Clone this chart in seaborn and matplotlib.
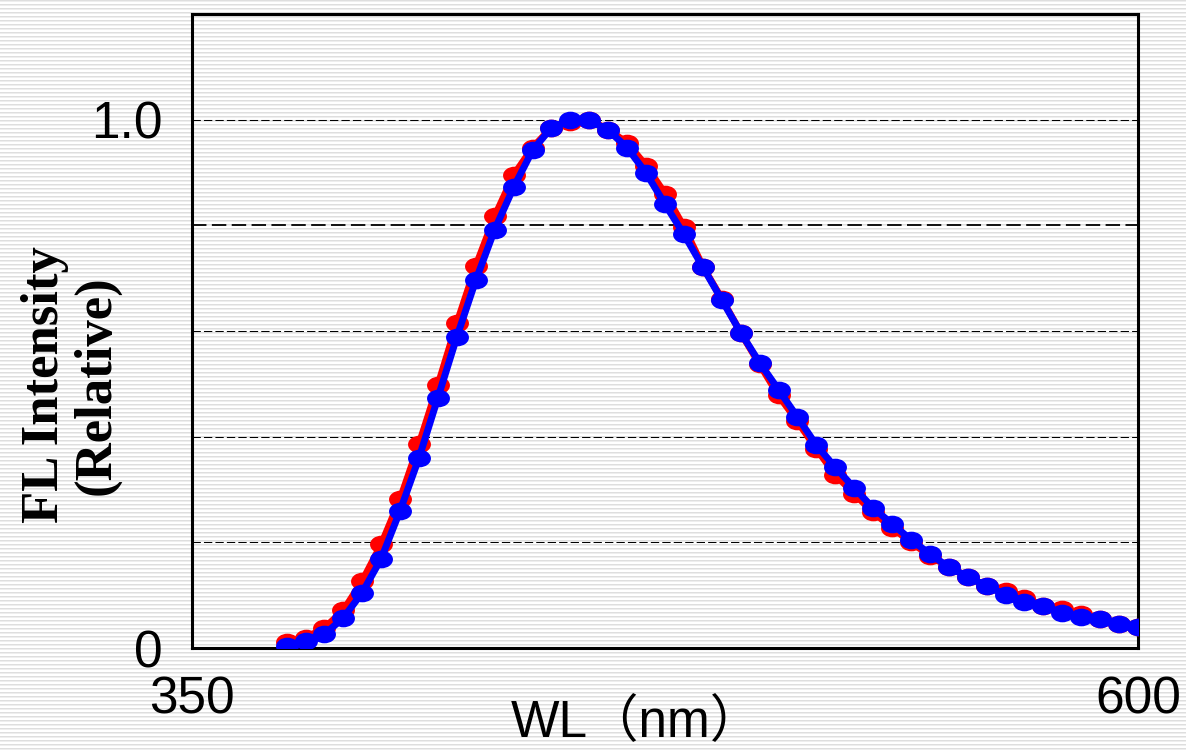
import numpy as np
import pandas as pd
import seaborn as sns
import matplotlib.pyplot as plt
from matplotlib.path import Path
from matplotlib.transforms import Affine2D

# datos
wl = list(range(375, 601, 5))
rojo = [0.011, 0.019, 0.038, 0.071, 0.127, 0.196, 0.282, 0.386, 0.498, 0.615,
        0.723, 0.817, 0.895, 0.947, 0.985, 0.995, 1.000, 0.981, 0.956, 0.913,
        0.860, 0.797, 0.722, 0.661, 0.597, 0.537, 0.478, 0.429, 0.377, 0.328,
        0.292, 0.257, 0.228, 0.200, 0.175, 0.153, 0.135, 0.117, 0.107, 0.095,
        0.080, 0.074, 0.064, 0.054, 0.045, 0.040]
azul = [0.004, 0.014, 0.026, 0.057, 0.105, 0.169, 0.260, 0.360, 0.474, 0.589,
        0.696, 0.792, 0.872, 0.942, 0.985, 0.999, 0.999, 0.980, 0.947, 0.899,
        0.840, 0.783, 0.721, 0.659, 0.597, 0.540, 0.489, 0.437, 0.384, 0.342,
        0.303, 0.265, 0.235, 0.205, 0.178, 0.153, 0.135, 0.117, 0.101, 0.088,
        0.080, 0.066, 0.058, 0.054, 0.045, 0.040]
grid_y = [0.2, 0.4, 0.6, 0.8, 1.0]
ytick_vals = [0, 1.0]
ytick_labels = ['0', '1.0']
xtick_vals = [350, 600]
xtick_labels = ['350', '600']

df = pd.DataFrame({'wl': wl, 'rojo': rojo, 'azul': azul})

sns.set_style("white")
plt.rcParams['font.family'] = ['Liberation Sans', 'Noto Sans CJK JP', 'DejaVu Sans']
plt.rcParams['text.color'] = 'black'
plt.rcParams['axes.labelcolor'] = 'black'
plt.rcParams['xtick.color'] = 'black'
plt.rcParams['ytick.color'] = 'black'

fig = plt.figure(figsize=(11.86, 7.5), dpi=100)

# fondo rayado
bg = fig.add_axes([0, 0, 1, 1], zorder=0)
filas = np.arange(750) % 4
patron = np.where(filas == 0, 0.87, np.where(filas == 1, 0.93, 1.0))
img = np.repeat(patron[:, None], 1186, axis=1)
bg.imshow(img, cmap='gray', vmin=0, vmax=1, aspect='auto', interpolation='nearest')
bg.axis('off')

ax = fig.add_axes([192 / 1186, 1 - 648 / 750, 946 / 1186, 634 / 750], zorder=1)
ax.set_facecolor('none')

# marcador eliptico
elipse = Path.unit_circle().transformed(Affine2D().scale(1.3, 1.0))

for y, lw in zip(grid_y, [0.75, 0.75, 0.75, 1.3, 0.75]):
    ax.axhline(y, color='black', lw=lw, ls=(0, (8, 3)), zorder=1)

sns.lineplot(data=df, x='wl', y='rojo', ax=ax, color='#ff0000', lw=5,
             marker=elipse, markersize=16.5, markeredgewidth=0, zorder=3)
sns.lineplot(data=df, x='wl', y='azul', ax=ax, color='#0000ff', lw=5,
             marker=elipse, markersize=16.5, markeredgewidth=0, zorder=4)

ax.set_xlim(350, 600)
ax.set_ylim(0, 1.2)
ax.set_xticks(xtick_vals)
ax.set_xticklabels(xtick_labels)
ax.set_yticks(ytick_vals)
ax.set_yticklabels(ytick_labels)
ax.tick_params(axis='x', length=0, pad=20, labelsize=37)
ax.tick_params(axis='y', length=0, pad=21, labelsize=37)

for s in ax.spines.values():
    s.set_visible(True)
    s.set_color('black')
    s.set_linewidth(2.2)

ax.set_xlabel('WL（nm）', fontsize=37)
ax.xaxis.label.set_va('bottom')
ax.xaxis.set_label_coords(0.47, -0.158)

ax.set_ylabel('FL Intensity\n(Relative)', fontsize=38, fontweight='bold',
              family=['Liberation Serif', 'DejaVu Serif'], linespacing=1.1)
ax.yaxis.label.set_va('center')
ax.yaxis.set_label_coords(-0.128, 0.415)

fig.savefig('out.png', dpi=100)
